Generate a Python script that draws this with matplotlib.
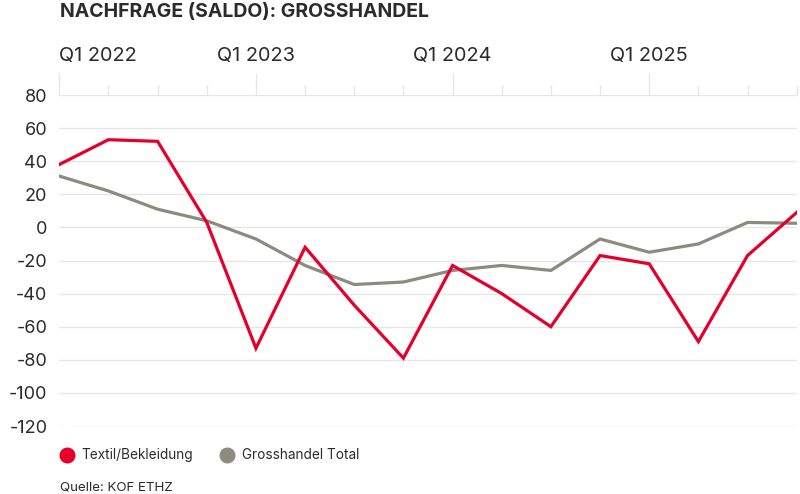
import matplotlib
matplotlib.use("Agg")
from matplotlib import pyplot as plt
from matplotlib.lines import Line2D

# values (saldo, quarterly)
quarters = ["Q1 2022", "Q2 2022", "Q3 2022", "Q4 2022",
            "Q1 2023", "Q2 2023", "Q3 2023", "Q4 2023",
            "Q1 2024", "Q2 2024", "Q3 2024", "Q4 2024",
            "Q1 2025", "Q2 2025", "Q3 2025", "Q4 2025"]
textil = [38, 53, 52, 3, -73, -12, -47, -79, -23, -40, -60, -17, -22, -69, -17, 9]
total = [31, 22, 11, 4, -7, -23, -34.5, -33, -26, -23, -26, -7, -15, -10, 3, 2.5]
y_ticks = [80, 60, 40, 20, 0, -20, -40, -60, -80, -100, -120]
series_names = ["Textil/Bekleidung", "Grosshandel Total"]

red = "#e4002b"
grey = "#8c8b80"
text_col = "#2b2b2b"
grid_col = "#e6e6e6"

plt.rcParams['font.family'] = ['Inter', 'DejaVu Sans']
plt.rcParams['axes.unicode_minus'] = False

W, H = 800, 494
fig = plt.figure(figsize=(W / 100, H / 100), dpi=100)
left, right, top, bottom = 59.3, 796.7, 95, 426
ax = fig.add_axes([left / W, 1 - bottom / H, (right - left) / W, (bottom - top) / H])

x = list(range(len(quarters)))
ax.plot(x, total, color=grey, lw=2.3, solid_joinstyle='miter', zorder=3)
ax.plot(x, textil, color=red, lw=2.3, solid_joinstyle='miter', zorder=4)

ax.set_xlim(0, len(quarters) - 1)
ax.set_ylim(min(y_ticks), max(y_ticks))

# horizontal grid
for v in y_ticks:
    ax.axhline(v, color=grid_col, lw=1, zorder=1)
for s in ax.spines.values():
    s.set_visible(False)

ax.set_yticks(y_ticks)
ax.set_yticklabels([str(v) for v in y_ticks])
ax.tick_params(axis='y', length=0, pad=8.5, labelsize=13, labelcolor=text_col)

# quarter ticks on top, year starts longer and labelled
ax.xaxis.tick_top()
major = [i for i, q in enumerate(quarters) if q.startswith("Q1")]
minor = [i for i in x if i not in major]
ax.set_xticks(major)
ax.set_xticklabels([quarters[i] for i in major])
ax.set_xticks(minor, minor=True)
ax.tick_params(axis='x', which='major', length=15.5, width=1, color=grid_col,
               pad=6, labelsize=14.3, labelcolor=text_col)
ax.tick_params(axis='x', which='minor', length=7.5, width=1, color=grid_col)
ax.get_xticklabels()[0].set_ha('left')

fig.text(60 / W, 1 - 12 / H, "NACHFRAGE (SALDO): GROSSHANDEL", fontsize=14,
         fontweight='bold', color=text_col, va='center', ha='left')

# legend
for cx, tx, col, name in [(66.7, 81.7, red, series_names[0]),
                          (226.7, 241.7, grey, series_names[1])]:
    fig.add_artist(Line2D([cx / W], [1 - 454.5 / H], marker='o', markersize=10.5,
                          color=col, linestyle='none', transform=fig.transFigure))
    fig.text(tx / W, 1 - 454.5 / H, name, fontsize=9.8, color=text_col,
             va='center', ha='left')

fig.text(60 / W, 1 - 487 / H, "Quelle: KOF ETHZ", fontsize=9.6, color=text_col,
         va='center', ha='left')

fig.savefig("out.png", dpi=100)
